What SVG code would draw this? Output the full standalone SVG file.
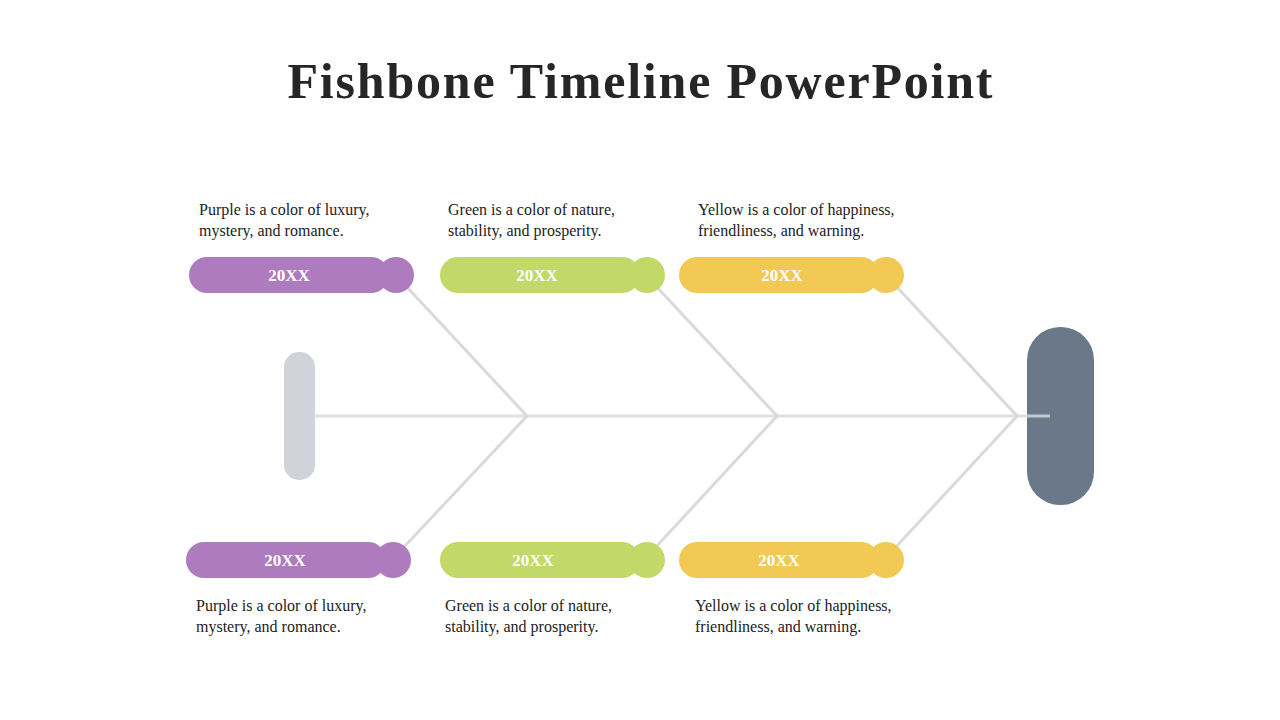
<svg xmlns="http://www.w3.org/2000/svg" width="1280" height="720" viewBox="0 0 1280 720">
<style>
.t{font-family:"Liberation Serif",serif;font-size:16px;fill:#222}
.y{font-family:"Liberation Serif",serif;font-size:17px;font-weight:bold;fill:#fff;text-anchor:middle}
.b{stroke:#DADADA;stroke-width:3;fill:none}
.p{fill:#AD7BBE}.g{fill:#C2D869}.o{fill:#F2C955}
</style>
<rect width="1280" height="720" fill="#fff"/>
<text x="640" y="98" text-anchor="middle" font-family="Liberation Serif,serif" font-size="50" font-weight="bold" fill="#262626" textLength="705">Fishbone Timeline PowerPoint</text>
<rect id="tail" x="284" y="352" width="31" height="128" rx="15" fill="#D0D3D9"/>
<rect id="head" x="1027" y="327" width="67" height="178" rx="33" fill="#6B788A"/>
<g id="connectors" class="b">
<line x1="313" y1="416" x2="1050" y2="416" stroke-opacity="0.8"/>
<polyline points="405,285 527,416 403,548"/>
<polyline points="655,285 777,416 655,548"/>
<polyline points="895,285 1017,416 895,548"/>
</g>
<g id="n1"><rect class="p" x="189" y="257" width="200" height="36" rx="18"/><circle class="p" cx="396" cy="275" r="18"/><text class="y" x="289" y="281">20XX</text>
<text class="t" x="199" y="215">Purple is a color of luxury,</text><text class="t" x="199" y="236">mystery, and romance.</text></g>
<g id="n2"><rect class="g" x="440" y="257" width="200" height="36" rx="18"/><circle class="g" cx="647" cy="275" r="18"/><text class="y" x="537" y="281">20XX</text>
<text class="t" x="448" y="215">Green is a color of nature,</text><text class="t" x="448" y="236">stability, and prosperity.</text></g>
<g id="n3"><rect class="o" x="679" y="257" width="200" height="36" rx="18"/><circle class="o" cx="886" cy="275" r="18"/><text class="y" x="782" y="281">20XX</text>
<text class="t" x="698" y="215">Yellow is a color of happiness,</text><text class="t" x="698" y="236">friendliness, and warning.</text></g>
<g id="n4"><rect class="p" x="186" y="542" width="200" height="36" rx="18"/><circle class="p" cx="393" cy="560" r="18"/><text class="y" x="285" y="566">20XX</text>
<text class="t" x="196" y="611">Purple is a color of luxury,</text><text class="t" x="196" y="632">mystery, and romance.</text></g>
<g id="n5"><rect class="g" x="440" y="542" width="200" height="36" rx="18"/><circle class="g" cx="647" cy="560" r="18"/><text class="y" x="533" y="566">20XX</text>
<text class="t" x="445" y="611">Green is a color of nature,</text><text class="t" x="445" y="632">stability, and prosperity.</text></g>
<g id="n6"><rect class="o" x="679" y="542" width="200" height="36" rx="18"/><circle class="o" cx="886" cy="560" r="18"/><text class="y" x="779" y="566">20XX</text>
<text class="t" x="695" y="611">Yellow is a color of happiness,</text><text class="t" x="695" y="632">friendliness, and warning.</text></g>
</svg>
